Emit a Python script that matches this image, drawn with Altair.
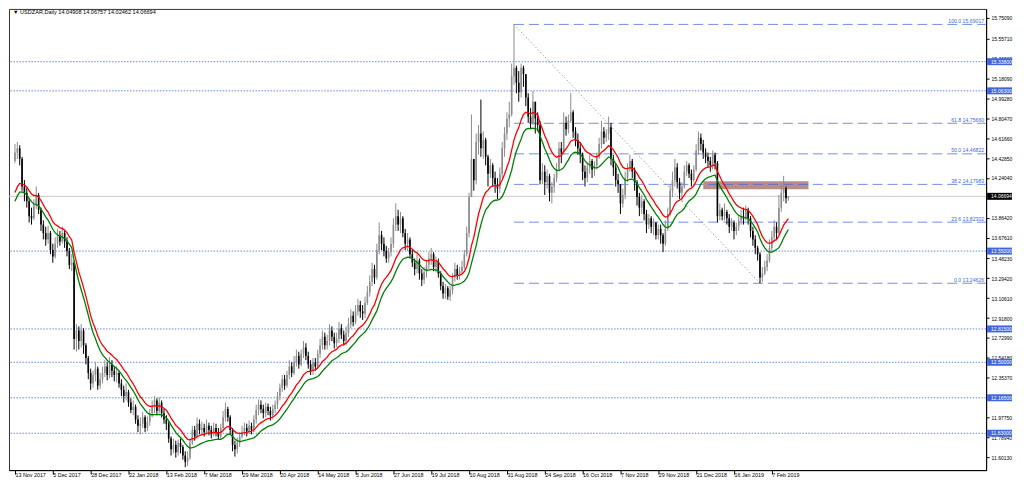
import altair as alt
import pandas as pd

# ---------------- data ----------------
title_text = "\u25BC USDZAR,Daily  14.04908 14.06757 14.02462 14.06694"

first_open = 14.40
closes = [
    14.48, 14.52, 14.42, 14.16, 14.10, 14.02, 13.88, 13.86, 13.98, 14.08,
    13.94, 13.80, 13.72, 13.66, 13.72, 13.56, 13.50, 13.62, 13.70, 13.64,
    13.72, 13.64, 13.55, 13.42, 13.44, 12.72, 12.80, 12.70, 12.80, 12.66,
    12.54, 12.40, 12.30, 12.38, 12.44, 12.28, 12.34, 12.40, 12.46, 12.38,
    12.48, 12.42, 12.38, 12.40, 12.30, 12.24, 12.18, 12.22, 12.12, 12.05,
    12.08, 11.96, 11.90, 11.92, 11.98, 11.88, 11.94, 12.02, 12.08, 12.14,
    12.04, 12.12, 12.02, 11.96, 11.92, 11.78, 11.68, 11.72, 11.65, 11.74,
    11.70, 11.62, 11.56, 11.60, 11.74, 11.86, 11.80, 11.92, 11.86, 11.88,
    11.84, 11.90, 11.86, 11.82, 11.88, 11.84, 11.80, 11.88, 11.98, 12.06,
    11.98, 11.86, 11.72, 11.68, 11.74, 11.80, 11.84, 11.88, 11.85, 11.90,
    11.86, 11.96, 12.05, 12.10, 12.06, 12.02, 12.08, 12.04, 12.00, 12.06,
    12.10, 12.18, 12.26, 12.34, 12.28, 12.38, 12.46, 12.40, 12.50, 12.56,
    12.48, 12.58, 12.64, 12.56, 12.48, 12.42, 12.50, 12.46, 12.58, 12.66,
    12.74, 12.66, 12.70, 12.80, 12.74, 12.68, 12.72, 12.82, 12.76, 12.70,
    12.78, 12.86, 12.94, 12.88, 12.98, 13.04, 12.98, 12.96, 13.06, 13.16,
    13.26, 13.38, 13.30, 13.56, 13.70, 13.62, 13.55, 13.48, 13.54, 13.62,
    13.80, 13.88, 13.80, 13.86, 13.72, 13.62, 13.66, 13.52, 13.44, 13.38,
    13.46, 13.34, 13.28, 13.35, 13.42, 13.48, 13.52, 13.40, 13.45, 13.34,
    13.22, 13.15, 13.20, 13.12, 13.18, 13.30, 13.38, 13.32, 13.36, 13.40,
    13.52, 13.72, 14.06, 14.42, 14.22, 14.58, 14.66, 14.52, 14.60, 14.44,
    14.28, 14.36, 14.24, 14.18, 14.14, 14.28, 14.52, 14.66, 14.80, 14.84,
    15.20, 15.28, 15.14, 15.05, 15.28, 15.22, 15.00, 14.82, 14.76, 14.96,
    14.80, 14.74, 14.22, 14.30, 14.20, 14.26, 14.10, 14.16, 14.24, 14.32,
    14.52, 14.48, 14.76, 14.70, 14.78, 14.86, 14.68, 14.60, 14.52, 14.46,
    14.30, 14.24, 14.34, 14.40, 14.32, 14.36, 14.44, 14.56, 14.68, 14.62,
    14.66, 14.72, 14.42, 14.34, 14.22, 14.18, 14.00, 14.08, 14.24, 14.32,
    14.40, 14.30, 14.20, 14.06, 13.96, 14.02, 13.90, 13.80, 13.86, 13.78,
    13.82, 13.70, 13.76, 13.70, 13.62, 13.76, 13.90, 14.12, 14.22, 14.34,
    14.20, 14.10, 14.16, 14.30, 14.36, 14.28, 14.22, 14.32, 14.50, 14.62,
    14.56, 14.48, 14.44, 14.40, 14.36, 14.46, 14.38, 13.88, 13.94, 13.88,
    13.92, 13.86, 13.78, 13.82, 13.74, 13.78, 13.84, 13.88, 13.86, 13.94,
    13.86, 13.74, 13.66, 13.58, 13.52, 13.30, 13.34, 13.40, 13.46, 13.58,
    13.68, 13.78, 13.72, 13.96, 14.10, 14.14, 14.04908, 14.06694,
]
highs = [
    14.56, 14.58, 14.55, 14.44, 14.22, 14.15, 14.05, 13.96, 14.04, 14.16,
    14.10, 13.96, 13.84, 13.78, 13.79, 13.74, 13.62, 13.68, 13.76, 13.74,
    13.78, 13.74, 13.68, 13.58, 13.52, 13.46, 12.86, 12.84, 12.86, 12.82,
    12.68, 12.56, 12.44, 12.42, 12.50, 12.46, 12.40, 12.46, 12.52, 12.50,
    12.55, 12.52, 12.46, 12.46, 12.42, 12.34, 12.28, 12.30, 12.24, 12.16,
    12.14, 12.10, 12.00, 11.98, 12.03, 12.00, 11.99, 12.06, 12.14, 12.18,
    12.16, 12.17, 12.14, 12.06, 12.00, 11.94, 11.80, 11.78, 11.76, 11.77,
    11.78, 11.72, 11.66, 11.66, 11.78, 11.90, 11.90, 11.98, 11.96, 11.94,
    11.92, 11.96, 11.93, 11.90, 11.93, 11.92, 11.88, 11.92, 12.04, 12.12,
    12.08, 12.00, 11.88, 11.76, 11.79, 11.84, 11.90, 11.93, 11.92, 11.95,
    11.93, 12.00, 12.10, 12.15, 12.14, 12.10, 12.12, 12.11, 12.08, 12.10,
    12.14, 12.22, 12.30, 12.38, 12.38, 12.42, 12.52, 12.50, 12.56, 12.62,
    12.60, 12.62, 12.70, 12.68, 12.60, 12.52, 12.54, 12.54, 12.62, 12.72,
    12.80, 12.78, 12.76, 12.86, 12.84, 12.78, 12.78, 12.88, 12.86, 12.80,
    12.84, 12.92, 13.00, 12.98, 13.04, 13.10, 13.08, 13.04, 13.12, 13.22,
    13.32, 13.44, 13.42, 13.62, 13.82, 13.74, 13.68, 13.60, 13.58, 13.68,
    13.86, 14.00, 13.94, 13.92, 13.88, 13.76, 13.72, 13.68, 13.56, 13.48,
    13.52, 13.48, 13.38, 13.40, 13.46, 13.54, 13.58, 13.54, 13.50, 13.48,
    13.36, 13.26, 13.24, 13.22, 13.22, 13.34, 13.44, 13.42, 13.40, 13.46,
    13.56, 13.78, 14.10, 14.84, 14.40, 14.66, 14.74, 14.98, 14.68, 14.62,
    14.46, 14.42, 14.38, 14.30, 14.24, 14.34, 14.58, 14.72, 14.86, 14.96,
    15.32, 15.69017, 15.30, 15.25, 15.32, 15.30, 15.20, 15.04, 14.90, 15.06,
    14.96, 14.86, 14.78, 14.38, 14.36, 14.32, 14.28, 14.20, 14.28, 14.38,
    14.58, 14.58, 14.86, 14.82, 14.84, 15.04, 14.88, 14.72, 14.66, 14.58,
    14.48, 14.36, 14.38, 14.46, 14.42, 14.40, 14.48, 14.62, 14.78, 14.72,
    14.70, 14.82, 14.76, 14.46, 14.38, 14.28, 14.18, 14.14, 14.30, 14.38,
    14.46, 14.42, 14.34, 14.22, 14.10, 14.08, 14.04, 13.94, 13.90, 13.88,
    13.86, 13.82, 13.80, 13.80, 13.72, 13.84, 13.96, 14.18, 14.30, 14.42,
    14.38, 14.24, 14.20, 14.36, 14.40, 14.38, 14.32, 14.36, 14.56, 14.68,
    14.66, 14.60, 14.52, 14.48, 14.44, 14.50, 14.48, 14.40, 14.00, 13.96,
    14.00, 13.94, 13.90, 13.86, 13.84, 13.82, 13.88, 13.94, 13.96, 13.98,
    13.96, 13.88, 13.78, 13.70, 13.60, 13.54, 13.40, 13.46, 13.52, 13.66,
    13.74, 13.84, 13.82, 14.08, 14.18, 14.26, 14.16, 14.06757,
]
lows = [
    14.38, 14.42, 14.36, 14.12, 14.02, 13.96, 13.82, 13.80, 13.84, 13.95,
    13.90, 13.74, 13.66, 13.60, 13.62, 13.52, 13.44, 13.48, 13.58, 13.60,
    13.62, 13.58, 13.50, 13.38, 13.36, 12.62, 12.60, 12.62, 12.64, 12.58,
    12.48, 12.34, 12.24, 12.26, 12.32, 12.24, 12.25, 12.30, 12.36, 12.33,
    12.35, 12.36, 12.32, 12.31, 12.26, 12.18, 12.12, 12.14, 12.08, 12.02,
    12.00, 11.92, 11.84, 11.82, 11.88, 11.84, 11.85, 11.90, 11.98, 12.02,
    12.00, 12.02, 11.98, 11.92, 11.86, 11.74, 11.62, 11.64, 11.60, 11.62,
    11.64, 11.58, 11.51, 11.52, 11.58, 11.72, 11.76, 11.78, 11.82, 11.82,
    11.80, 11.82, 11.81, 11.78, 11.80, 11.80, 11.77, 11.78, 11.86, 11.94,
    11.94, 11.82, 11.66, 11.61, 11.64, 11.70, 11.78, 11.81, 11.80, 11.82,
    11.82, 11.84, 11.92, 12.00, 12.02, 11.97, 11.98, 12.00, 11.95, 11.96,
    12.02, 12.06, 12.14, 12.22, 12.24, 12.26, 12.34, 12.36, 12.38, 12.46,
    12.44, 12.46, 12.54, 12.52, 12.44, 12.38, 12.38, 12.42, 12.44, 12.54,
    12.62, 12.62, 12.62, 12.66, 12.70, 12.63, 12.64, 12.68, 12.72, 12.66,
    12.66, 12.74, 12.82, 12.84, 12.86, 12.94, 12.92, 12.90, 12.92, 13.04,
    13.12, 13.22, 13.24, 13.28, 13.52, 13.56, 13.50, 13.44, 13.44, 13.50,
    13.58, 13.74, 13.74, 13.72, 13.68, 13.56, 13.55, 13.48, 13.40, 13.32,
    13.34, 13.28, 13.22, 13.24, 13.30, 13.38, 13.42, 13.36, 13.35, 13.30,
    13.18, 13.10, 13.10, 13.09, 13.08, 13.14, 13.26, 13.28, 13.28, 13.32,
    13.38, 13.50, 13.68, 14.30, 14.12, 14.18, 14.46, 14.44, 14.42, 14.36,
    14.16, 14.24, 14.16, 14.10, 14.04, 14.10, 14.24, 14.44, 14.60, 14.72,
    14.82, 15.12, 15.04, 14.96, 15.00, 15.10, 14.92, 14.76, 14.70, 14.74,
    14.66, 14.68, 14.18, 14.18, 14.08, 14.14, 14.02, 14.00, 14.10, 14.20,
    14.30, 14.38, 14.46, 14.64, 14.66, 14.76, 14.62, 14.54, 14.46, 14.38,
    14.22, 14.16, 14.20, 14.28, 14.24, 14.26, 14.32, 14.42, 14.52, 14.56,
    14.58, 14.60, 14.36, 14.26, 14.16, 14.10, 13.90, 13.96, 14.04, 14.20,
    14.30, 14.24, 14.12, 13.98, 13.88, 13.90, 13.84, 13.72, 13.76, 13.72,
    13.70, 13.66, 13.66, 13.62, 13.54, 13.60, 13.74, 13.88, 14.06, 14.16,
    14.14, 14.04, 14.02, 14.14, 14.26, 14.24, 14.16, 14.20, 14.30, 14.46,
    14.50, 14.42, 14.38, 14.34, 14.30, 14.32, 14.32, 13.82, 13.84, 13.84,
    13.84, 13.80, 13.72, 13.74, 13.66, 13.70, 13.74, 13.80, 13.80, 13.84,
    13.80, 13.68, 13.60, 13.52, 13.46, 13.24626, 13.26, 13.32, 13.36, 13.44,
    13.54, 13.64, 13.66, 13.70, 13.92, 14.02, 14.00, 14.02462,
]

date_labels = [
    "13 Nov 2017", "5 Dec 2017", "28 Dec 2017", "22 Jan 2018", "13 Feb 2018",
    "7 Mar 2018", "29 Mar 2018", "20 Apr 2018", "14 May 2018", "5 Jun 2018",
    "27 Jun 2018", "19 Jul 2018", "10 Aug 2018", "31 Aug 2018", "24 Sep 2018",
    "16 Oct 2018", "7 Nov 2018", "29 Nov 2018", "21 Dec 2018", "16 Jan 2019",
    "7 Feb 2019",
]
bars_per_label = 16

# price-scale labels (the ones fully hidden under the price boxes are left out)
price_ticks = [15.7509, 15.5571, 15.3690, 15.1809, 14.9928, 14.8047, 14.6166,
               14.4285, 14.2404, 13.8642, 13.6761, 13.4823, 13.2942,
               13.1061, 12.9180, 12.7299, 12.5418, 12.3537, 11.9775,
               11.7894, 11.6013]

level_values = [15.338, 15.063, 13.55, 12.815, 12.50, 12.165, 11.83]
level_labels = ["15.33800", "15.06300", "13.55000", "12.81500", "12.50000",
                "12.16500", "11.83000"]
current_price = 14.06694
current_label = "14.06694"

fib_values = [15.69017, 14.75660, 14.46822, 14.17983, 13.82302, 13.24626]
fib_labels = ["100.0 15.69017", "61.8 14.75660", "50.0 14.46822",
              "38.2 14.17983", "23.6 13.82302", "0.0 13.24626"]
fib_anchor_bar = [211, 315]
fib_anchor_price = [15.69017, 13.24626]

rect_bars = [291, 335.5]
rect_prices = [14.135, 14.21]

ma_period = 15
red_seed = 14.05
green_seed = 13.97

# ---------------- build tables ----------------
n = len(closes)
opens = [first_open] + closes[:-1]
opens[-1] = 14.04908
hi = [max(h, o, c) for h, o, c in zip(highs, opens, closes)]
lo = [min(l, o, c) for l, o, c in zip(lows, opens, closes)]

alpha = 2.0 / (ma_period + 1)
red, e = [], red_seed
for c in closes:
    e = e + alpha * (c - e)
    red.append(e)
green, e = [], green_seed
for l in lo:
    e = e + alpha * (l - e)
    green.append(e)

df = pd.DataFrame({
    "i": list(range(n)), "o": opens, "h": hi, "l": lo, "c": closes,
    "dir": ["up" if c >= o else "down" for o, c in zip(opens, closes)],
    "red": red, "green": green,
})

W, H = 981, 463
FONT = "Liberation Sans"
xs = alt.Scale(domain=[-0.417, 408.5], nice=False, zero=False)
ys = alt.Scale(domain=[11.4821, 15.8364], nice=False, zero=False)

label_expr = ("[" + ",".join("'" + d + "'" for d in date_labels) +
              "][round(datum.value/" + str(bars_per_label) + ")]")

XA = alt.Axis(values=[k * bars_per_label for k in range(len(date_labels))],
              labelExpr=label_expr, labelAlign="left", labelBaseline="top",
              labelFont=FONT, labelFontSize=5.4, labelColor="#000",
              tickSize=4, tickColor="#000", domainColor="#000",
              labelPadding=-2, grid=False, title=None,
              labelOverlap=False, labelFlush=False)
YA = alt.Axis(orient="right", values=price_ticks, format=".5f",
              labelFont=FONT, labelFontSize=5.0, labelColor="#000",
              labelAlign="left", labelBaseline="middle",
              tickSize=3, tickColor="#000", domainColor="#000",
              labelPadding=2, grid=False, title=None,
              labelOverlap=False, labelFlush=False)


def X(field):
    return alt.X(field, scale=xs, axis=XA)


def Y(field):
    return alt.Y(field, scale=ys, axis=YA)


DOT_BLUE = "#4169E1"
GRAY_BAR = "#8c8c8c"

base = alt.Chart(df)
cscale = alt.Scale(domain=["up", "down"], range=[GRAY_BAR, "#000000"])

rect = alt.Chart(pd.DataFrame({"x0": [rect_bars[0]], "x1": [rect_bars[1]],
                               "y0": [rect_prices[0]], "y1": [rect_prices[1]]})
                 ).mark_rect(color="#b98c8c").encode(
    x=X("x0:Q"), x2="x1:Q", y=Y("y0:Q"), y2="y1:Q")

levels_df = pd.DataFrame({"v": level_values, "label": level_labels})
levels = alt.Chart(levels_df).mark_rule(color=DOT_BLUE, strokeDash=[1.5, 1.5],
                                        strokeWidth=1, opacity=0.8).encode(
    y=Y("v:Q"))

price_line = alt.Chart(pd.DataFrame({"v": [current_price]})).mark_rule(
    color="#c8c8c8", strokeWidth=1).encode(y=Y("v:Q"))

fib_df = pd.DataFrame({"v": fib_values, "label": fib_labels,
                       "i0": [fib_anchor_bar[0]] * len(fib_values)})
fib_lines = alt.Chart(fib_df).mark_rule(color=DOT_BLUE, strokeDash=[10, 5],
                                        strokeWidth=1, opacity=0.75).encode(
    x=X("i0:Q"), x2=alt.value(W), y=Y("v:Q"))
fib_text = alt.Chart(fib_df).mark_text(align="right", baseline="alphabetic",
                                       dy=-1.5, font=FONT, fontSize=5.2,
                                       color=DOT_BLUE).encode(
    x=alt.value(W - 2), y=Y("v:Q"), text="label:N")

diag = alt.Chart(pd.DataFrame({"i": fib_anchor_bar, "v": fib_anchor_price})
                 ).mark_line(color="#808080", strokeDash=[1, 2.5],
                             strokeWidth=1).encode(x=X("i:Q"), y=Y("v:Q"))

wick = base.mark_rule(strokeWidth=1).encode(
    x=X("i:Q"), y=Y("l:Q"), y2="h:Q",
    color=alt.Color("dir:N", scale=cscale, legend=None))
body = base.mark_bar(size=1.6).encode(
    x=X("i:Q"), y=Y("o:Q"), y2="c:Q",
    color=alt.Color("dir:N", scale=cscale, legend=None))

red_line = base.mark_line(color="#ff0000", strokeWidth=1.3).encode(
    x=X("i:Q"), y=Y("red:Q"))
green_line = base.mark_line(color="#008000", strokeWidth=1.3).encode(
    x=X("i:Q"), y=Y("green:Q"))

boxes = alt.Chart(levels_df).mark_rule(strokeWidth=7, color="#3f66de").encode(
    x=alt.value(W + 1), x2=alt.value(W + 26), y=Y("v:Q"))
box_text = alt.Chart(levels_df).mark_text(align="left", baseline="middle",
                                          font=FONT, fontSize=5.0,
                                          color="white").encode(
    x=alt.value(W + 5), y=Y("v:Q"), text="label:N")

cur_df = pd.DataFrame({"v": [current_price], "label": [current_label]})
cur_box = alt.Chart(cur_df).mark_rule(strokeWidth=7, color="#000000").encode(
    x=alt.value(W + 1), x2=alt.value(W + 26), y=Y("v:Q"))
cur_text = alt.Chart(cur_df).mark_text(align="left", baseline="middle",
                                       font=FONT, fontSize=5.0,
                                       color="white").encode(
    x=alt.value(W + 5), y=Y("v:Q"), text="label:N")

title = alt.Chart(pd.DataFrame({"t": [title_text]})).mark_text(
    align="left", baseline="top", font=FONT, fontSize=5.6, color="#000").encode(
    x=alt.value(4), y=alt.value(1), text="t:N")

chart = alt.layer(
    rect, levels, price_line, fib_lines, diag, wick, body, red_line, green_line,
    fib_text, boxes, box_text, cur_box, cur_text, title,
).properties(
    width=W, height=H, padding={"left": 0, "top": 0, "right": 0, "bottom": 0},
    background="white",
).configure_view(stroke="#333333", strokeWidth=1)

chart.save("out.html", embed_options={"renderer": "svg", "actions": False})
